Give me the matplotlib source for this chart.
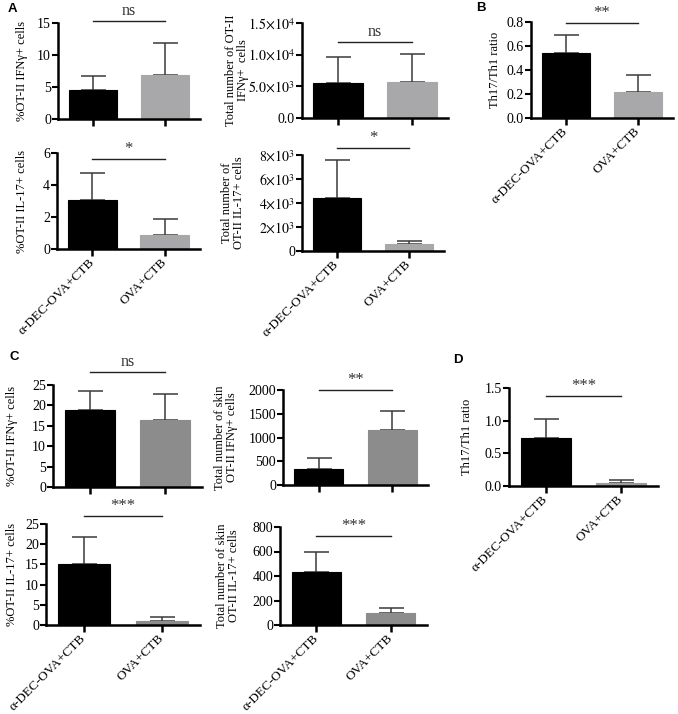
import numpy as np
import matplotlib
matplotlib.use('Agg')
import matplotlib.pyplot as plt
import matplotlib.transforms as mtransforms

plt.rcParams['font.family'] = ['Liberation Serif', 'DejaVu Serif']
plt.rcParams['mathtext.fontset'] = 'stix'

groups = ["α-DEC-OVA+CTB", "OVA+CTB"]

# panel A
a_ifn_pct = [4.6, 6.8]
a_ifn_pct_sd = [2.1, 5.0]
a_ifn_num = [5600, 5700]
a_ifn_num_sd = [4000, 4400]
a_il17_pct = [3.05, 0.85]
a_il17_pct_sd = [1.7, 1.05]
a_il17_num = [4400, 550]
a_il17_num_sd = [3150, 300]
# panel B
b_ratio = [0.545, 0.22]
b_ratio_sd = [0.145, 0.14]
# panel C
c_ifn_pct = [18.8, 16.5]
c_ifn_pct_sd = [4.8, 6.2]
c_ifn_num = [340, 1150]
c_ifn_num_sd = [230, 410]
c_il17_pct = [15.0, 0.9]
c_il17_pct_sd = [6.7, 1.2]
c_il17_num = [435, 100]
c_il17_num_sd = [165, 40]
# panel D
d_ratio = [0.73, 0.04]
d_ratio_sd = [0.29, 0.05]

LIGHT = '#a8a8aa'
DARK = '#8c8c8c'

fig = plt.figure(figsize=(6.78, 7.14), dpi=100)


def bar_panel(rect, vals, sds, gray, ylabel, lab_x, yticks, yticklabels,
              sig, sig_y, xlabels):
    ax = fig.add_axes(rect)
    x = np.arange(2)
    ax.bar(x, vals, width=0.67, color=['black', gray], edgecolor=['black', gray],
           linewidth=0.8, zorder=2)
    ax.errorbar(x, vals, yerr=[[0, 0], sds], fmt='none', ecolor='#3a3a3a',
                elinewidth=1.1, capsize=9, capthick=1.1, zorder=1)
    ax.set_xlim(-0.49, 1.49)
    ax.set_ylim(yticks[0], yticks[-1])
    ax.set_yticks(yticks)
    ax.set_yticklabels(yticklabels, fontsize=10)
    ax.set_xticks(x)
    if xlabels:
        ax.set_xticklabels(groups, rotation=45, ha='right', va='center',
                           rotation_mode='anchor', fontsize=9.5)
    else:
        ax.set_xticklabels([])
    for s in ['top', 'right']:
        ax.spines[s].set_visible(False)
    for s in ['left', 'bottom']:
        ax.spines[s].set_linewidth(1.8)
    ax.tick_params(axis='y', width=1.5, length=4, pad=1)
    ax.tick_params(axis='x', width=1.8, length=5, pad=3)
    ax.set_ylabel(ylabel, fontsize=9, linespacing=1.0)
    ax.yaxis.set_label_coords(lab_x, 0.5)
    # significance bar
    tr = mtransforms.blended_transform_factory(ax.transData, ax.transAxes)
    ax.plot([0, 1], [sig_y, sig_y], color='#222222', lw=1.0, transform=tr,
            clip_on=False)
    ax.text(0.5, sig_y + 0.02, sig, transform=tr, ha='center', va='bottom',
            fontsize=11.5 if sig == 'ns' else 12, color='#333333')
    return ax


px = lambda l, t, r, b: [l / 678, 1 - b / 714, (r - l) / 678, (b - t) / 714]

# A
bar_panel(px(58, 23, 200, 119), a_ifn_pct, a_ifn_pct_sd, LIGHT,
          '%OT-II IFNγ+ cells', -0.21, [0, 5, 10, 15],
          ['0', '5', '10', '15'], 'ns', 1.02, False)
bar_panel(px(302, 23, 448, 118), a_ifn_num, a_ifn_num_sd, LIGHT,
          'Total number of OT-II\nIFNγ+  cells', -0.36,
          [0, 5000, 10000, 15000],
          ['0.0', r'$5.0{\times}10^3$', r'$1.0{\times}10^4$',
           r'$1.5{\times}10^4$'], 'ns', 0.80, False)
bar_panel(px(57, 153, 200, 249), a_il17_pct, a_il17_pct_sd, LIGHT,
          '%OT-II IL-17+ cells', -0.205, [0, 2, 4, 6],
          ['0', '2', '4', '6'], '*', 0.94, True)
bar_panel(px(302, 155, 444, 251), a_il17_num, a_il17_num_sd, LIGHT,
          'Total number of\nOT-II IL-17+ cells', -0.40,
          [0, 2000, 4000, 6000, 8000],
          ['0', r'$2{\times}10^3$', r'$4{\times}10^3$', r'$6{\times}10^3$',
           r'$8{\times}10^3$'], '*', 1.07, True)
# B
bar_panel(px(531, 22, 673, 118), b_ratio, b_ratio_sd, LIGHT,
          'Th17/Th1 ratio', -0.21, [0, 0.2, 0.4, 0.6, 0.8],
          ['0.0', '0.2', '0.4', '0.6', '0.8'], '**', 0.99, True)
# C
bar_panel(px(53, 385, 202, 487), c_ifn_pct, c_ifn_pct_sd, DARK,
          '%OT-II IFNγ+ cells', -0.235, [0, 5, 10, 15, 20, 25],
          ['0', '5', '10', '15', '20', '25'], 'ns', 1.13, False)
bar_panel(px(283, 390, 428, 485), c_ifn_num, c_ifn_num_sd, DARK,
          'Total number of skin\nOT-II IFNγ+ cells', -0.31,
          [0, 500, 1000, 1500, 2000],
          ['0', '500', '1000', '1500', '2000'], '**', 1.0, False)
bar_panel(px(46, 524, 200, 625), c_il17_pct, c_il17_pct_sd, DARK,
          '%OT-II IL-17+ cells', -0.18, [0, 5, 10, 15, 20, 25],
          ['0', '5', '10', '15', '20', '25'], '***', 1.08, True)
bar_panel(px(280, 527, 427, 625), c_il17_num, c_il17_num_sd, DARK,
          'Total number of skin\nOT-II IL-17+ cells', -0.27,
          [0, 200, 400, 600, 800],
          ['0', '200', '400', '600', '800'], '***', 0.91, True)
# D
bar_panel(px(509, 388, 658, 486), d_ratio, d_ratio_sd, '#9c9c9c',
          'Th17/Th1 ratio', -0.24, [0, 0.5, 1.0, 1.5],
          ['0.0', '0.5', '1.0', '1.5'], '***', 0.92, True)

for lbl, x, y in [('A', 12, 9), ('B', 481, 8), ('C', 14, 357), ('D', 458, 360)]:
    fig.text(x / 678, 1 - y / 714, lbl, fontsize=9.5, fontweight='bold',
             family='Liberation Sans', ha='center', va='center')

fig.savefig('out.png', dpi=100)
